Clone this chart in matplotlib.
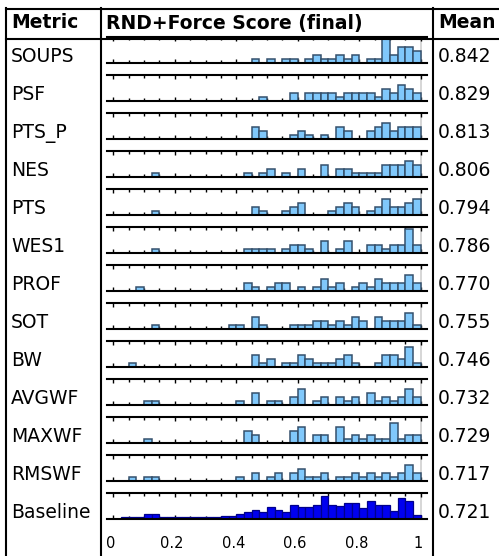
import matplotlib
matplotlib.use("Agg")
import matplotlib.pyplot as plt
from matplotlib.lines import Line2D
from matplotlib.ticker import MultipleLocator, FixedLocator
from matplotlib.transforms import ScaledTranslation
import numpy as np

# ---- data -------------------------------------------------------------
metrics = ["SOUPS", "PSF", "PTS_P", "NES", "PTS", "WES1", "PROF",
           "SOT", "BW", "AVGWF", "MAXWF", "RMSWF", "Baseline"]
means = [0.842, 0.829, 0.813, 0.806, 0.794, 0.786, 0.770,
         0.755, 0.746, 0.732, 0.729, 0.717, 0.721]

# counts per score bin (40 bins of width 0.025 on [0, 1])
soups = [0,0,0,0,0,0,0,0,0,0, 0,0,0,0,0,0,0,0,1,0, 1,0,1,1,0,1,2,1,1,2, 1,2,0,1,1,6,2,4,4,3]
psf   = [0,0,0,0,0,0,0,0,0,0, 0,0,0,0,0,0,0,0,0,1, 0,0,0,2,0,2,2,2,2,1, 2,2,2,2,1,3,2,4,3,2]
pts_p = [0,0,0,0,0,0,0,0,0,0, 0,0,0,0,0,0,0,0,3,2, 0,0,0,1,2,1,0,1,0,3, 2,0,0,2,3,4,2,3,3,3]
nes   = [0,0,0,0,0,1,0,0,0,0, 0,0,0,0,0,0,0,1,0,1, 2,0,1,0,2,0,0,3,0,2, 2,1,1,1,1,3,3,3,4,3]
pts   = [0,0,0,0,0,1,0,0,0,0, 0,0,0,0,0,0,0,0,2,1, 0,0,1,2,3,0,0,0,1,2, 3,2,0,1,2,4,2,2,3,4]
wes1  = [0,0,0,0,0,1,0,0,0,0, 0,0,0,0,0,0,0,1,1,1, 1,0,1,2,2,1,0,3,0,1, 3,0,0,2,2,1,2,2,6,2]
prof  = [0,0,0,1,0,0,0,0,0,0, 0,0,0,0,0,0,0,2,1,0, 1,2,2,0,1,0,1,3,1,2, 0,1,2,1,3,2,2,2,4,2]
sot   = [0,0,0,0,0,1,0,0,0,0, 0,0,0,0,0,1,1,0,3,1, 0,0,0,1,1,1,2,2,1,2, 1,3,2,0,3,2,2,2,4,1]
bw    = [0,0,1,0,0,0,0,0,0,0, 0,0,0,0,0,0,0,0,3,1, 2,0,1,1,3,2,1,1,1,2, 3,1,0,0,1,3,3,2,5,1]
avgwf = [0,0,0,0,1,1,0,0,0,0, 0,0,0,0,0,0,1,0,3,0, 1,1,0,2,4,0,1,2,0,2, 1,2,0,3,1,2,1,2,4,2]
maxwf = [0,0,0,0,1,0,0,0,0,0, 0,0,0,0,0,0,0,3,2,0, 0,0,0,3,4,0,2,2,0,4, 1,2,1,2,1,1,5,1,2,2]
rmswf = [0,0,1,0,1,1,0,0,0,0, 0,0,0,0,0,0,1,0,2,0, 1,2,0,2,3,1,1,2,0,1, 1,2,1,2,1,2,1,2,4,2]
baseline = [0,2,2,2,5,5,2,2,2,2, 2,2,2,2,3,3,5,7,9,7, 12,9,7,14,12,12,14,23,14,13,
            16,16,11,18,14,14,8,21,18,4]

counts = [soups, psf, pts_p, nes, pts, wes1, prof, sot, bw, avgwf, maxwf, rmswf, baseline]
tick_labels = ["0", "0.2", "0.4", "0.6", "0.8", "1"]
tick_values = [0, 0.2, 0.4, 0.6, 0.8, 1.0]

# ---- layout (pixels) ---------------------------------------------------
W, H = 499, 556
fig = plt.figure(figsize=(W / 100, H / 100), dpi=100)


def fx(px):
    return px / W


def fy(py):
    return 1 - py / H


LINE_W = 1.5
FS = 13.5

# table rules
for x in (6, 101, 433.3):
    fig.add_artist(Line2D([fx(x), fx(x)], [fy(8), fy(H)], color="black",
                          lw=LINE_W, transform=fig.transFigure))
for y in (8.5, 38.5):
    fig.add_artist(Line2D([fx(6), fx(W)], [fy(y), fy(y)], color="black",
                          lw=LINE_W, transform=fig.transFigure))

# header
fig.text(fx(11), fy(28.5), "Metric", fontsize=FS, fontweight="bold", va="baseline")
fig.text(fx(106), fy(28.5), "RND+Force Score (final)", fontsize=FS,
         fontweight="bold", va="baseline")
fig.text(fx(438), fy(28.5), "Mean", fontsize=FS, fontweight="bold", va="baseline")

edges = np.arange(40) * 0.025
ax_left, ax_width = 106.7, 320
first_bottom, pitch, ax_h = 63.3, 38.0, 26.0

light_fill, light_edge = "#80c8fb", "#34506c"
base_fill, base_edge = "#0000f0", "#00008c"

for k, (name, c, m) in enumerate(zip(metrics, counts, means)):
    bottom = first_bottom + pitch * k
    ax = fig.add_axes([fx(ax_left), fy(bottom), ax_width / W, ax_h / H])
    c = np.asarray(c, dtype=float)
    nz = c > 0
    is_base = name == "Baseline"
    ax.bar(edges[nz], c[nz], width=0.025, align="edge",
           color=base_fill if is_base else light_fill,
           edgecolor=base_edge if is_base else light_edge,
           linewidth=0.9 if is_base else 1.1, zorder=2)
    ax.axvline(1.0, color="#d0d0d0", lw=1.2, zorder=1)
    ax.set_xlim(-0.0215, 1.0195)
    ax.set_ylim(0, c.max() * 1.12 if is_base else 6.4)
    for side in ("left", "right"):
        ax.spines[side].set_visible(False)
    for side in ("top", "bottom"):
        ax.spines[side].set_linewidth(1.5)
        ax.spines[side].set_zorder(3)
    ax.set_yticks([])
    ax.xaxis.set_major_locator(FixedLocator(tick_values))
    ax.xaxis.set_minor_locator(MultipleLocator(0.05))
    ax.tick_params(axis="x", which="both", direction="in", top=True, bottom=True,
                   width=1.0, color="black")
    ax.tick_params(axis="x", which="major", length=3.2)
    ax.tick_params(axis="x", which="minor", length=2.4)
    if is_base:
        ax.set_xticklabels(tick_labels)
        ax.tick_params(axis="x", which="major", labelsize=10.5, pad=12,
                       labelbottom=True, labeltop=False)
        shift = ScaledTranslation(-3 / 100, 0, fig.dpi_scale_trans)
        for lab in ax.get_xticklabels():
            lab.set_transform(lab.get_transform() + shift)
    else:
        ax.tick_params(axis="x", labelbottom=False, labeltop=False)
    ax.patch.set_alpha(0)

    fig.text(fx(11), fy(bottom - 1), name, fontsize=FS, va="baseline")
    fig.text(fx(438), fy(bottom - 1), f"{m:.3f}", fontsize=FS, va="baseline")

fig.savefig("out.png", dpi=100)
